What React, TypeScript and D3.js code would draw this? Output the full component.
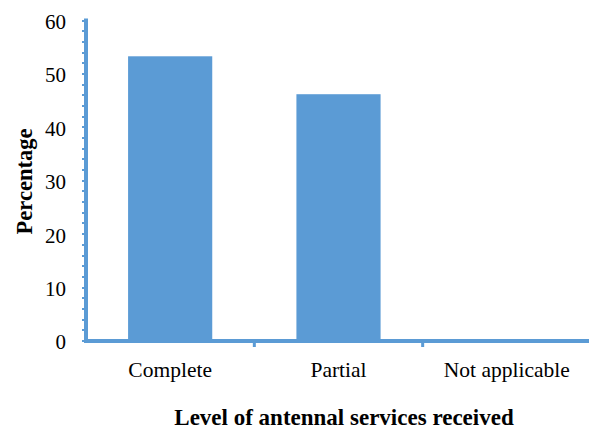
import React, { useRef, useEffect } from 'react';
import * as d3 from 'd3';

// chart data
const categories = ['Complete', 'Partial', 'Not applicable'];
const percentages = [53.3, 46.2, 0];
const yTicks = [0, 10, 20, 30, 40, 50, 60];

const W = 589;
const H = 432;
const BLUE = '#5B9BD5';
const FONT = '"Liberation Serif", "Times New Roman", serif';

const App = () => {
  const svgRef = useRef<SVGSVGElement>(null);

  useEffect(() => {
    const svg = d3.select(svgRef.current);
    svg.selectAll('*').remove();

    const margin = { top: 20.5, right: 0, bottom: 91, left: 86 };

    const x = d3.scaleBand()
      .domain(categories)
      .range([margin.left, W - margin.right + 2])
      .paddingInner(0.5)
      .paddingOuter(0.25);

    const y = d3.scaleLinear()
      .domain([0, 60])
      .range([H - margin.bottom, margin.top]);

    // bars
    svg.append('g')
      .selectAll('rect')
      .data(categories)
      .enter().append('rect')
      .attr('x', d => x(d)!)
      .attr('y', (d, i) => y(percentages[i]))
      .attr('width', x.bandwidth())
      .attr('height', (d, i) => y(0) - y(percentages[i]))
      .attr('fill', BLUE);

    // y axis: minor ticks every 2 units
    const yAxis = svg.append('g');
    yAxis.selectAll('line.minor')
      .data(d3.range(0, 61, 2))
      .enter().append('line')
      .attr('class', 'minor')
      .attr('x1', margin.left - 4)
      .attr('x2', margin.left)
      .attr('y1', d => Math.round(y(d)))
      .attr('y2', d => Math.round(y(d)))
      .attr('stroke', BLUE)
      .attr('stroke-width', 2);
    yAxis.append('line')
      .attr('x1', margin.left)
      .attr('x2', margin.left)
      .attr('y1', y(60) - 2)
      .attr('y2', y(0) + 2)
      .attr('stroke', BLUE)
      .attr('stroke-width', 4);
    yAxis.selectAll('text')
      .data(yTicks)
      .enter().append('text')
      .attr('x', margin.left - 20)
      .attr('y', d => y(d))
      .attr('dy', '0.4em')
      .attr('text-anchor', 'end')
      .attr('font-family', FONT)
      .attr('font-size', 21)
      .attr('fill', '#000')
      .text(d => d);

    // x axis
    const xAxis = svg.append('g');
    const step = x.step();
    const bounds = categories.map((c, i) => margin.left + i * step).slice(1);
    xAxis.append('line')
      .attr('x1', margin.left - 2)
      .attr('x2', W)
      .attr('y1', y(0))
      .attr('y2', y(0))
      .attr('stroke', BLUE)
      .attr('stroke-width', 4);
    xAxis.selectAll('line.tick')
      .data(bounds)
      .enter().append('line')
      .attr('class', 'tick')
      .attr('x1', d => d)
      .attr('x2', d => d)
      .attr('y1', y(0))
      .attr('y2', y(0) + 6)
      .attr('stroke', BLUE)
      .attr('stroke-width', 3);
    xAxis.selectAll('text')
      .data(categories)
      .enter().append('text')
      .attr('x', d => x(d)! + x.bandwidth() / 2)
      .attr('y', y(0) + 36)
      .attr('text-anchor', 'middle')
      .attr('font-family', FONT)
      .attr('font-size', 21.5)
      .attr('fill', '#000')
      .text(d => d);

    // axis titles
    svg.append('text')
      .attr('x', 344)
      .attr('y', 425)
      .attr('text-anchor', 'middle')
      .attr('font-family', FONT)
      .attr('font-weight', 'bold')
      .attr('font-size', 23)
      .text('Level of antennal services received');

    svg.append('text')
      .attr('transform', 'translate(32,181.5) rotate(-90)')
      .attr('text-anchor', 'middle')
      .attr('font-family', FONT)
      .attr('font-weight', 'bold')
      .attr('font-size', 22.5)
      .text('Percentage');
  }, []);

  return (
    <svg
      ref={svgRef}
      width={W}
      height={H}
      style={{ position: 'absolute', left: 0, top: 0, background: '#fff' }}
    />
  );
};

export default App;
